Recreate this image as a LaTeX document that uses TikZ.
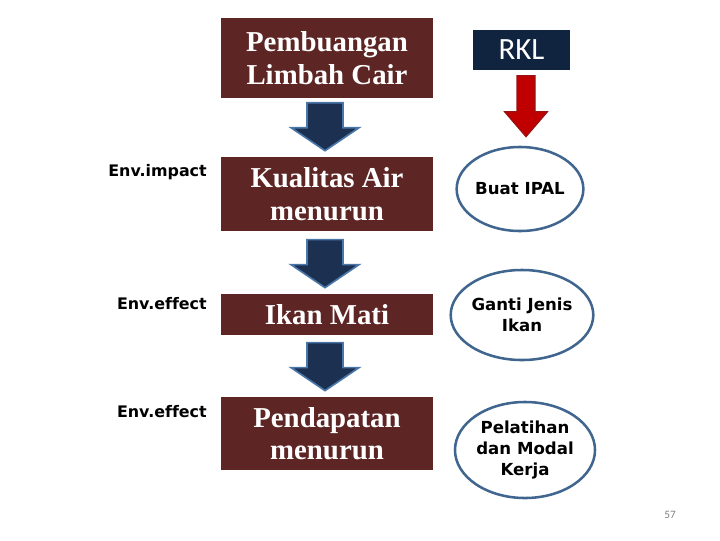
\documentclass[tikz,border=0pt]{standalone}
\usepackage{fontspec}
\setmainfont{Liberation Serif}
\newfontfamily\verdfont[Ligatures=NoCommon]{DejaVu Sans}
\newfontfamily\calfont{Carlito}
\usetikzlibrary{shapes.geometric, calc}

\definecolor{brownbox}{RGB}{94,37,37}
\definecolor{navybox}{RGB}{16,36,63}
\definecolor{arrowblue}{RGB}{28,48,82}
\definecolor{edgeblue}{RGB}{74,118,168}
\definecolor{ringblue}{RGB}{64,102,143}
\definecolor{arrowred}{RGB}{192,0,0}
\definecolor{edgered}{RGB}{150,20,20}

\tikzset{
  impact/.style={fill=brownbox, text=white, minimum width=5.3cm, inner sep=0pt, align=center,
    font=\fontsize{20.5}{23}\selectfont\bfseries},
  action/.style={ellipse, draw=ringblue, line width=1.8pt, fill=white, inner sep=0pt, align=center,
    font=\verdfont\bfseries\fontsize{11.8}{15}\selectfont},
  level/.style={anchor=east, inner sep=0pt, font=\verdfont\bfseries\fontsize{11.3}{13}\selectfont},
  bluedown/.pic={
    \draw[fill=arrowblue, draw=edgeblue, line width=1.2pt]
      (0,0) -- (34,-23) -- (18,-23) -- (18,-48) -- (-18,-48) -- (-18,-23) -- (-34,-23) -- cycle;
  },
  reddown/.pic={
    \draw[fill=arrowred, draw=edgered, line width=0.8pt]
      (0,0) -- (21.5,-25) -- (9,-25) -- (9,-61) -- (-9,-61) -- (-9,-25) -- (-21.5,-25) -- cycle;
  },
}

\begin{document}
\begin{tikzpicture}[x=0.025cm, y=-0.025cm]
            \useasboundingbox (0,0) rectangle (720,540);

            % impact chain
            \node[impact, minimum height=2cm] (spill) at (327,58) {Pembuangan\\Limbah Cair};
            \node[impact, minimum height=1.85cm] (quality) at (327,194) {Kualitas Air\\menurun};
            \node[impact, minimum height=1.03cm] (fish) at (327,314.5) {Ikan Mati};
            \node[impact, minimum height=1.83cm] (income) at (327,433.5) {Pendapatan\\menurun};

            \pic at ($(quality.north)+(-2,-6)$) {bluedown};
            \pic at ($(fish.north)+(-2,-6)$) {bluedown};
            \pic at ($(income.north)+(-2,-6)$) {bluedown};

            \node[level] (impactlbl) at (207,172) {Env.impact};
            \node[level] (effectlbl) at (207,304) {Env.effect};
            \node[level] (effectlbl2) at (207,412) {Env.effect};

            % management plan
            \node[fill=navybox, text=white, minimum width=2.43cm, minimum height=1cm, inner sep=0pt,
              font=\calfont\fontsize{22}{24}\selectfont] (rkl) at (521.5,50) {RKL};

            \node[action, minimum width=2.85cm, minimum height=2.1cm] (ipal) at (520,189) {Buat IPAL};
            \node[action, minimum width=3.38cm, minimum height=2.25cm] (species) at (522,315) {Ganti Jenis\\Ikan};
            \node[action, minimum width=3.5cm, minimum height=2.4cm] (training) at (525,450) {Pelatihan\\dan Modal\\Kerja};

            \pic at ($(ipal.north)+(6,-9)$) {reddown};

            \node[text=gray, font=\calfont\fontsize{8}{9}\selectfont] (page) at (670,515) {57};
        \end{tikzpicture}
\end{document}
